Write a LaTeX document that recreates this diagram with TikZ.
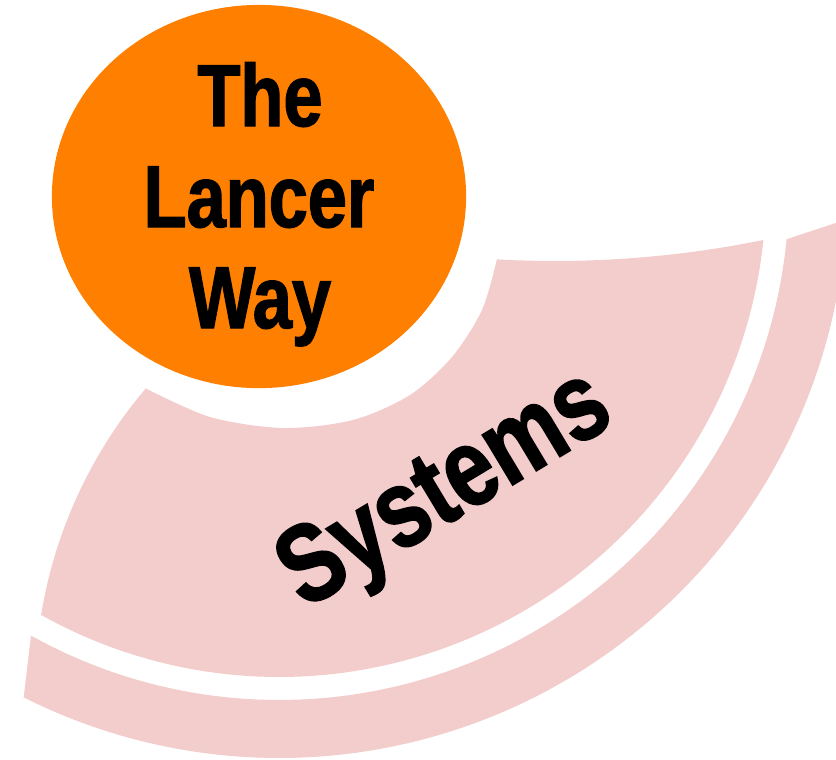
\documentclass[tikz,border=0pt]{standalone}
\usepackage{fontspec}
\newfontfamily\heavyfont{Liberation Sans}[FakeStretch=0.8, FakeBold=1.5]
\definecolor{lancerorange}{RGB}{255,128,0}
\definecolor{bandpink}{RGB}{243,204,204}

\begin{document}
\begin{tikzpicture}[x=0.01cm, y=-0.01cm,
  bandfill/.style={fill=bandpink},
  titletext/.style={inner sep=0pt, text=black, font=\heavyfont\bfseries\fontsize{25}{30}\selectfont},
  ringtext/.style={inner sep=0pt, text=black, font=\heavyfont\bfseries\fontsize{31.5}{36}\selectfont}]
\useasboundingbox (0,0) rectangle (836,759);
\clip (0,0) rectangle (836,759);

% inner band: annular sector around (279,190), curved end caps
\fill[bandfill]
  plot[variable=\t, domain=0:1, samples=40]
    ({555+1045*cos(93.18-14.68*\t)}, {-784+1045*sin(93.18-14.68*\t)})
  -- plot[variable=\t, domain=0:1, samples=90]
    ({279+487*cos(5.92+113.31*\t)}, {190+487*sin(5.92+113.31*\t)})
  -- plot[variable=\t, domain=0:1, samples=40]
    ({501+466*cos(189.26+31.04*\t)}, {690+466*sin(189.26+31.04*\t)})
  -- plot[smooth] coordinates {(145,388) (210,417) (283,428) (353,420) (410,395) (452,357) (482,310) (497,259)}
  -- cycle;

% outer thin band
\fill[bandfill]
  (786.6,239.2) -- (846.3,219.5)
  -- plot[variable=\t, domain=0:1, samples=90]
    ({279+568*cos(2.98+113.79*\t)}, {190+568*sin(2.98+113.79*\t)})
  -- (31,635.6)
  -- plot[variable=\t, domain=0:1, samples=90]
    ({279+510*cos(119.11-113.58*\t)}, {190+510*sin(119.11-113.58*\t)})
  -- cycle;

% orange disc
\fill[lancerorange] (259,196.5) ellipse[x radius=2.07cm, y radius=1.915cm];

\node[titletext, anchor=base] (the) at (260,126) {The};
\node[titletext, anchor=base] (lancer) at (259,227) {Lancer};
\node[titletext, anchor=base] (way) at (260,328) {Way};

\node[ringtext, anchor=base, rotate=31] (systems) at (461,516) {Systems};
\end{tikzpicture}
\end{document}
